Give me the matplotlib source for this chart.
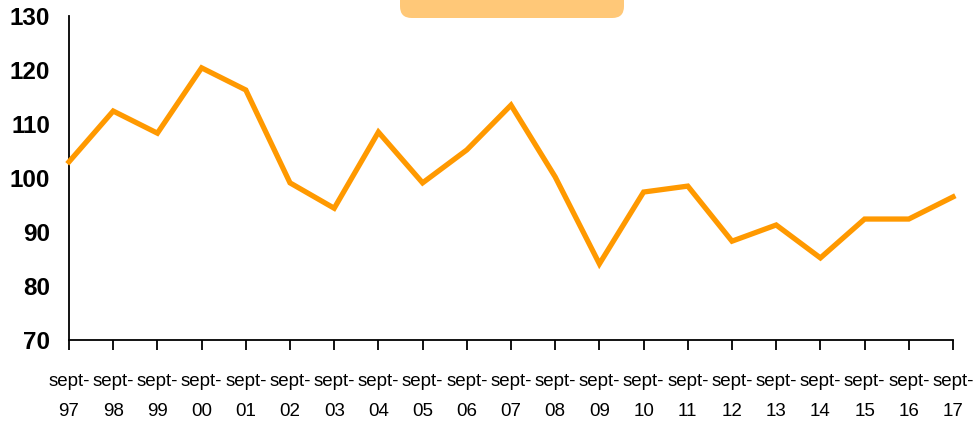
import matplotlib as mpl
mpl.use('Agg')
import matplotlib.pyplot as plt
from matplotlib.patches import FancyBboxPatch

years = ['97', '98', '99', '00', '01', '02', '03', '04', '05', '06', '07',
         '08', '09', '10', '11', '12', '13', '14', '15', '16', '17']
values = [103.0, 112.4, 108.3, 120.4, 116.3, 99.1, 94.4, 108.5, 99.1, 105.2,
          113.5, 100.2, 84.1, 97.4, 98.5, 88.3, 91.3, 85.2, 92.4, 92.4, 96.5]
labels = ['sept-\n' + y for y in years]

fig = plt.figure(figsize=(9.75, 4.24), dpi=100)
ax = fig.add_axes([69 / 975, 1 - 340 / 424, (953 - 69) / 975, (340 - 16) / 424])

x = list(range(len(values)))
ax.plot(x, values, color='#FF9900', linewidth=3.8, solid_joinstyle='miter',
        clip_on=False, zorder=3)

ax.set_xlim(0, len(values) - 1)
ax.set_ylim(70, 130)
ax.set_yticks(range(70, 131, 10))
ax.set_yticklabels([str(v) for v in range(70, 131, 10)],
                   fontsize=17.5, fontweight='bold', family='Liberation Sans')
ax.set_xticks(x)
ax.set_xticklabels(labels, fontsize=13.5, family='Liberation Sans',
                   linespacing=1.95)

for s in ['top', 'right']:
    ax.spines[s].set_visible(False)
for s in ['left', 'bottom']:
    ax.spines[s].set_linewidth(1.3)
    ax.spines[s].set_color('black')
ax.tick_params(axis='y', length=0, pad=13.5)
ax.tick_params(axis='x', direction='out', length=7, width=1.3, pad=17)

# clipped legend box at top
box = FancyBboxPatch((400 / 975, 1 - 18 / 424), 224 / 975, 40 / 424,
                     boxstyle='round,pad=0,rounding_size=0.012',
                     transform=fig.transFigure, facecolor='#FFC878',
                     edgecolor='none', mutation_aspect=975 / 424)
fig.patches.append(box)

fig.savefig('out.png', dpi=100)
